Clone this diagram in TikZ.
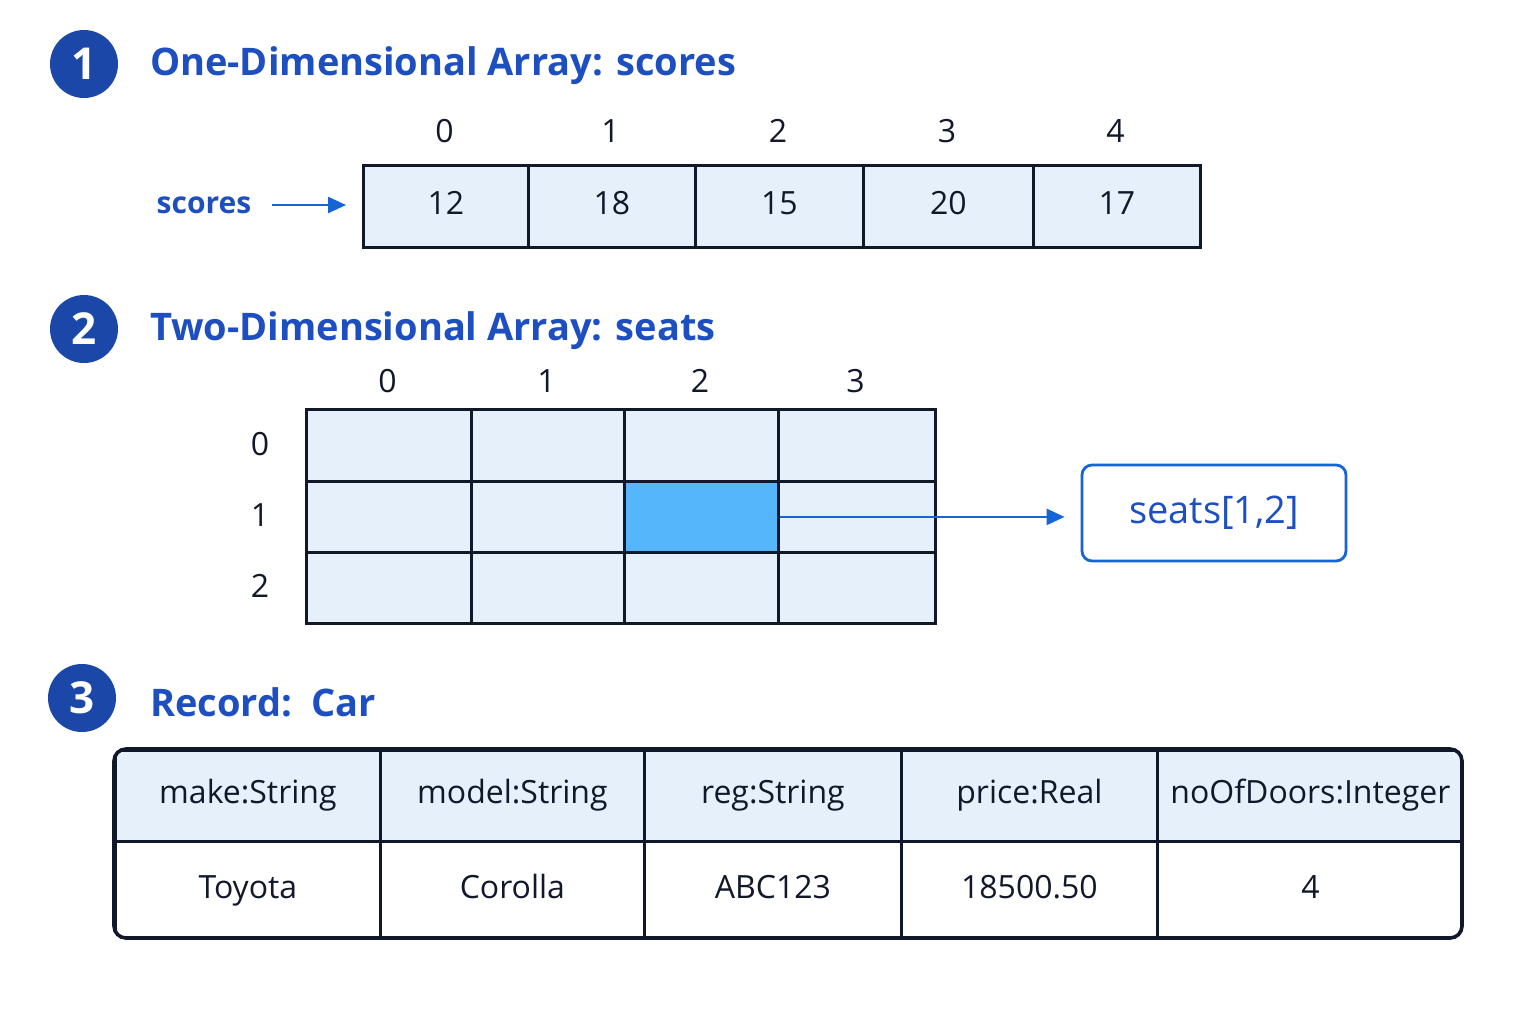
\documentclass[tikz,border=0pt]{standalone}
\usepackage{fontspec}
\setmainfont{Open Sans}
\usetikzlibrary{arrows.meta,positioning}
\definecolor{numblue}{HTML}{1A47A8}
\definecolor{titleblue}{HTML}{1E4FC0}
\definecolor{cellfill}{HTML}{E6F0FB}
\definecolor{hotfill}{HTML}{55B6FB}
\definecolor{linkblue}{HTML}{1565D8}
\definecolor{ink}{HTML}{10182A}
\begin{document}
\begin{tikzpicture}[x=0.5pt,y=-0.5pt,
                    line width=1.4pt,
                    font=\fontsize{16}{19}\selectfont]
    \tikzstyle{badge}=[circle,fill=numblue,text=white,minimum size=34pt,inner sep=0pt,font=\fontsize{22}{24}\selectfont\bfseries]
    \tikzstyle{title}=[anchor=west,text=titleblue,font=\fontsize{19}{22}\selectfont\bfseries]
    \tikzstyle{cell}=[draw=ink,fill=cellfill,inner sep=0pt,anchor=north west,text=ink,text height=11pt,text depth=3pt]
    \tikzstyle{index}=[text=ink]
    \tikzstyle{link}=[draw=linkblue,line width=1.2pt,-{Triangle[length=9pt,width=8pt]}]

    \useasboundingbox (0,0) rectangle (1536,1024);
    \fill[white] (0,0) rectangle (1536,1024);

    % one-dimensional array
    \node[badge] (b1) at (84,64) {1};
    \node[title] (t1) at (142,66) {One-Dimensional Array: scores};
    \foreach \i/\x/\w/\v in {0/362/165/12,1/527/167/18,2/694/168/15,3/862/170/20,4/1032/167/17} {
        \node[cell,minimum width=\w*0.5pt,minimum height=41pt] (s\i) at (\x,164) {\v};
        \node[index] (si\i) at (\x+\w/2,131) {\i};
    }
    \node[text=titleblue,font=\fontsize{15}{18}\selectfont\bfseries] (sname) at (204,205) {scores};
    \coordinate (sstart) at (272,205);
    \coordinate (sarr) at (346,205);
    \draw[link] (sstart) -- (sarr);

    % two-dimensional array
    \node[badge] (b2) at (84,329) {2};
    \node[title] (t2) at (142,331) {Two-Dimensional Array: seats};
    \foreach \c/\x/\w in {0/305/165,1/470/153,2/623/154,3/777/157} {
        \foreach \r/\y/\h in {0/408/72,1/480/71,2/551/71} {
            \node[cell,minimum width=\w*0.5pt,minimum height=\h*0.5pt] (g\r\c) at (\x,\y) {};
        }
        \node[index] (gc\c) at (\x+\w/2,381) {\c};
    }
    \foreach \r/\y in {0/444,1/515,2/586} {
        \node[index] (gr\r) at (260,\y) {\r};
    }
    \node[cell,fill=hotfill,minimum width=77pt,minimum height=35.5pt] at (623,480) {};
    \node[draw=linkblue,rounded corners=5pt,minimum width=132pt,minimum height=48pt,
          text=titleblue,font=\fontsize{19}{22}\selectfont] (pick) at (1214,513) {seats[1,2]};
    \draw[link] (g12.east) -- ([xshift=-8pt]g12.east -| pick.west);

    % record
    \node[badge] (b3) at (82,698) {3};
    \node[title] (t3) at (142,702) {Record:\ \ Car};
    \begin{scope}
        \clip[rounded corners=6pt] (114,749) rectangle (1462,938);
        \foreach \k/\x/\w/\f/\v in {0/114/265/make:String/Toyota,1/379/264/model:String/Corolla,
                                    2/643/257/reg:String/ABC123,3/900/256/price:Real/18500.50,
                                    4/1156/306/noOfDoors:Integer/4} {
            \node[cell,minimum width=\w*0.5pt,minimum height=45.5pt] (h\k) at (\x,749) {\f};
            \node[cell,fill=white,minimum width=\w*0.5pt,minimum height=49pt] (v\k) at (\x,840) {\v};
        }
    \end{scope}
    \draw[ink,line width=1.8pt,rounded corners=6pt] (114,749) rectangle (1462,938);
\end{tikzpicture}
\end{document}
